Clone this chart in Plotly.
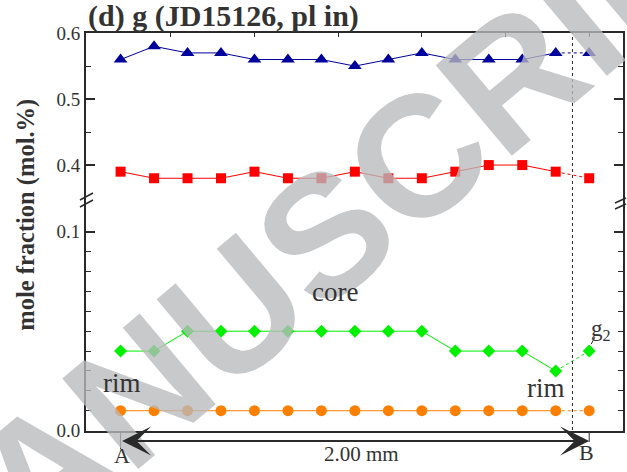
import plotly.graph_objects as go

# ---------------- data ----------------
idx = [0, 1, 2, 3, 4, 5, 6, 7, 8, 9, 10, 11, 12, 13, 14]
blue_tri = [0.56, 0.58, 0.57, 0.57, 0.56, 0.56, 0.56, 0.55, 0.56, 0.57, 0.56, 0.56, 0.56, 0.57, 0.57]
red_sq = [0.39, 0.38, 0.38, 0.38, 0.39, 0.38, 0.38, 0.39, 0.38, 0.38, 0.39, 0.40, 0.40, 0.39, 0.38]
green_dia = [0.04, 0.04, 0.05, 0.05, 0.05, 0.05, 0.05, 0.05, 0.05, 0.05, 0.04, 0.04, 0.04, 0.03, 0.04]
orange_cir = [0.01, 0.01, 0.01, 0.01, 0.01, 0.01, 0.01, 0.01, 0.01, 0.01, 0.01, 0.01, 0.01, 0.01, 0.01]

top_ticks = [0.4, 0.5, 0.6]
top_ticklabels = ["0.4", "0.5", "0.6"]
top_minor = [0.45, 0.55]
bot_ticks = [0.0, 0.1]
bot_ticklabels = ["0.0", "0.1"]
bot_minor = [0.01, 0.02, 0.03, 0.04, 0.05, 0.06, 0.07, 0.08, 0.09]
x_top_ticks = [1.5, 4, 6.5, 9, 11.5, 14]

# ---------------- geometry ----------------
W, H = 627, 472
ML, MR, MT, MB = 86, 2, 33, 41
PW = W - ML - MR
PH = H - MT - MB
BRK = (H - MB - 202) / PH
XR = [-1.033, 15.01]

INK = "#2a2a2a"
TXT = "#333333"
SERIF = "Liberation Serif, Times New Roman, serif"


def px_x(p):
    return (p - ML) / PW


def px_y(p):
    return (H - MB - p) / PH


fig = go.Figure()

series = [
    (blue_tri, "#00009c", "triangle-up", 12, "x2", "y"),
    (red_sq, "#ff0000", "square", 10, "x2", "y"),
    (green_dia, "#00f000", "diamond", 10, "x", "y2"),
    (orange_cir, "#ff8000", "circle", 11, "x", "y2"),
]
for vals, col, sym, sz, xa, ya in series:
    fig.add_trace(go.Scatter(x=idx[:14], y=vals[:14], mode="lines",
                             line=dict(color=col, width=1), xaxis=xa, yaxis=ya,
                             showlegend=False, hoverinfo="skip"))
    fig.add_trace(go.Scatter(x=idx[13:], y=vals[13:], mode="lines",
                             line=dict(color=col, width=1, dash="dot"), xaxis=xa, yaxis=ya,
                             showlegend=False, hoverinfo="skip"))
    fig.add_trace(go.Scatter(x=idx, y=vals, mode="markers",
                             marker=dict(color=col, symbol=sym, size=sz, line=dict(width=0)),
                             xaxis=xa, yaxis=ya, showlegend=False))

tickfont = dict(family=SERIF, size=19, color=TXT)

fig.update_layout(
    width=W, height=H,
    margin=dict(l=ML, r=MR, t=MT, b=MB),
    paper_bgcolor="white", plot_bgcolor="white",
    xaxis=dict(domain=[0, 1], range=XR, anchor="y2", showline=True, linewidth=2,
               linecolor=INK, showgrid=False, zeroline=False, ticks="",
               showticklabels=False),
    xaxis2=dict(domain=[0, 1], range=XR, anchor="y", side="top",
                matches="x", showline=True, linewidth=1.5, linecolor=INK,
                showgrid=False, zeroline=False, ticks="inside", ticklen=4,
                tickwidth=1, tickcolor=INK, tickmode="array", tickvals=x_top_ticks,
                showticklabels=False),
    yaxis=dict(domain=[BRK, 1], range=[0.344, 0.6002], anchor="x", showline=True,
               linewidth=2, linecolor=INK, mirror="ticks", showgrid=False,
               zeroline=False, ticks="inside", ticklen=9, tickwidth=1.5,
               tickcolor=INK, tickmode="array", tickvals=top_ticks,
               ticktext=top_ticklabels, tickfont=tickfont,
               minor=dict(tickmode="array", tickvals=top_minor, ticks="inside",
                          ticklen=5, tickwidth=1.2, tickcolor=INK, showgrid=False)),
    yaxis2=dict(domain=[0, BRK], range=[-0.0002, 0.115], anchor="x", showline=True,
                linewidth=2, linecolor=INK, mirror="ticks", showgrid=False,
                zeroline=False, ticks="inside", ticklen=9, tickwidth=1.5,
                tickcolor=INK, tickmode="array", tickvals=bot_ticks,
                ticktext=bot_ticklabels, tickfont=tickfont,
                minor=dict(tickmode="array", tickvals=bot_minor, ticks="inside",
                           ticklen=5, tickwidth=1.2, tickcolor=INK, showgrid=False)),
)

shapes = []
# vertical dotted line between last two analyses
shapes.append(dict(type="line", xref="x", yref="paper", x0=13.5, x1=13.5,
                   y0=px_y(436), y1=1, line=dict(color=INK, width=1, dash="dot")))
# A / B markers below axis
shapes.append(dict(type="line", xref="x", yref="paper", x0=0, x1=0,
                   y0=px_y(432), y1=px_y(449), line=dict(color=INK, width=1)))
shapes.append(dict(type="line", xref="x", yref="paper", x0=14, x1=14,
                   y0=px_y(431), y1=px_y(442), line=dict(color=INK, width=1)))
# g2 leader
shapes.append(dict(type="line", xref="x", yref="y2", x0=14.17, x1=14.06,
                   y0=0.0470, y1=0.0435, line=dict(color=INK, width=1)))
# axis break slashes (left and right)
for xa, offs in [(0, [(-6, 2, 7, 9), (-6, -5, 7, 2)]), (1, [(-8, -1, 3, 4), (-8, -7, 3, -2)])]:
    for x0, y0, x1, y1 in offs:
        shapes.append(dict(type="line", xref="paper", yref="paper",
                           xsizemode="pixel", xanchor=xa, ysizemode="pixel", yanchor=BRK,
                           x0=x0, x1=x1, y0=y0, y1=y1,
                           line=dict(color=INK, width=1.5)))
fig.update_layout(shapes=shapes)

ann = []


def label(text, xref, x, yref, y, size, **kw):
    d = dict(text=text, xref=xref, x=x, yref=yref, y=y, showarrow=False,
             xanchor="center", yanchor="middle",
             font=dict(family=SERIF, size=size, color=TXT))
    d.update(kw)
    ann.append(d)


# watermark
ann.append(dict(text="<b>MANUSCRIPT</b>", xref="paper", yref="paper",
                x=px_x(326), y=px_y(234), xanchor="center", yanchor="middle",
                showarrow=False, textangle=-40,
                font=dict(family="Liberation Sans, Arial, sans-serif",
                          size=172, color="rgba(185,186,188,0.78)")))
# title
label("<b>(d) g (JD15126, pl in)</b>", "paper", 0, "paper", px_y(16), 30, xanchor="left")
# y title
label("<b>mole fraction (mol.%)</b>", "paper", px_x(25.5), "paper", px_y(215), 24.5,
      textangle=-90)
label("core", "x", 6.41, "y2", 0.0697, 27)
label("rim", "x", 0.04, "y2", 0.024, 27)
label("rim", "x", 12.72, "y2", 0.0215, 27)
label("g<sub>2</sub>", "x", 14.36, "y2", 0.0505, 23)
label("2.00 mm", "x", 7.2, "paper", px_y(454), 21)
label("A", "x", 0.04, "paper", px_y(455), 22)
label("B", "x", 13.92, "paper", px_y(453), 22)
# double-headed arrow A -> B
ann.append(dict(text="", xref="x", yref="paper", x=14, y=px_y(441),
                axref="x", ax=0, ayref="pixel", ay=0, showarrow=True,
                arrowhead=3, startarrowhead=3, arrowside="end+start",
                arrowwidth=2.2, arrowsize=2.2, startarrowsize=2.2, arrowcolor=INK))
fig.update_layout(annotations=ann)

fig.write_html("out.html")
